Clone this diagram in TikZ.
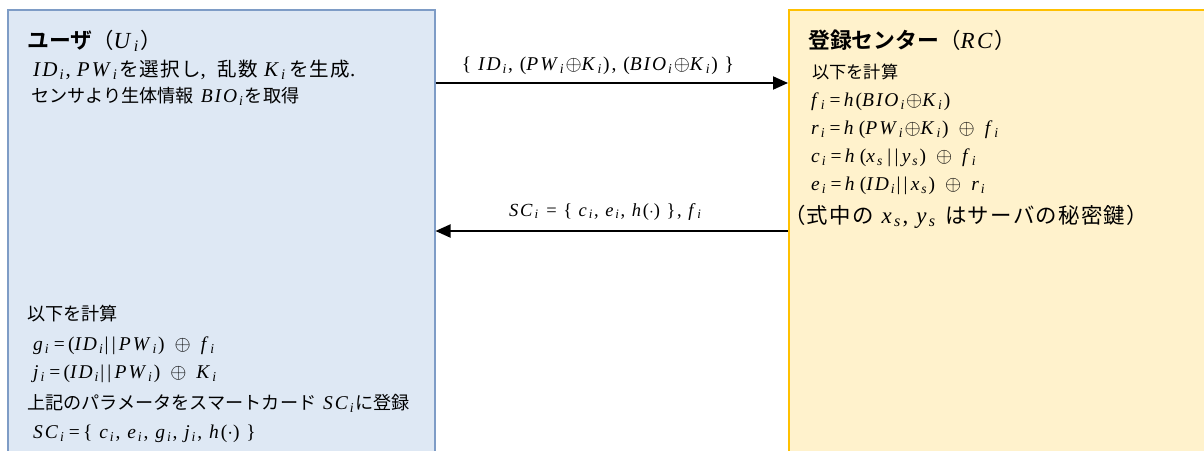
\documentclass[tikz,border=0pt]{standalone}
\usepackage{fontspec}
\setmainfont{Liberation Serif}[LetterSpace=10]
\newfontfamily\jp{Noto Sans CJK JP}[Scale=0.93]
\newfontfamily\jpw{Noto Sans CJK JP}[Scale=0.93,LetterSpace=6]
\newfontfamily\jpb{Noto Sans CJK JP Bold}[Scale=0.95]
\usetikzlibrary{arrows.meta}
\definecolor{ufill}{HTML}{DEE8F4}
\definecolor{uline}{HTML}{7E9CC6}
\definecolor{rfill}{HTML}{FFF2CC}
\definecolor{rline}{HTML}{FFC000}
\newcommand\vv[2]{\textit{#1}\textsubscript{\textit{#2}}}
\newcommand\xo{$\oplus$}
\newcommand\xxo{\hspace{10pt}$\oplus$\hspace{10pt}}
\tikzset{
  ubox/.style={draw=uline,fill=ufill,line width=1.5pt,rectangle,inner sep=0pt},
  rbox/.style={draw=rline,fill=rfill,line width=1.8pt,rectangle,inner sep=0pt},
  txt/.style={anchor=base west,inner sep=0pt,font=\fontsize{19.5}{23}\selectfont},
  ttl/.style={anchor=base west,inner sep=0pt,font=\fontsize{23}{27}\selectfont},
  lbl/.style={anchor=base,inner sep=0pt,font=\fontsize{19.5}{23}\selectfont},
  msg/.style={line width=2pt,-{Triangle[length=15pt,width=13pt]}}
}
\begin{document}
\begin{tikzpicture}[x=1pt,y=-1pt]
\useasboundingbox (0,0) rectangle (1204,450);
\clip (0,0) rectangle (1204,450);
\node[ubox,minimum width=427pt,minimum height=460pt,anchor=north west] (user) at (7,9) {};
\node[rbox,minimum width=430pt,minimum height=460pt,anchor=north west] (rc) at (788,9) {};
% user texts
\node[ttl] (ut) at (27,48) {{\jpb ユーザ}{\jp （}\vv{U}{i}{\jp ）}};
\node[txt,font=\fontsize{21}{25}\selectfont] (u1) at (33,76) {\vv{ID}{i},\hspace{6pt}\vv{PW}{i}{\jpw を選択し},\hspace{12pt}{\jpw 乱数}\hspace{6pt}\vv{K}{i}\hspace{2pt}{\jpw を生成}.};
\node[txt] (u2) at (31,102) {{\jp センサより生体情報} \vv{BIO}{i}{\jp を取得}};
\node[txt] (u3) at (27,320) {\jp 以下を計算};
\node[txt] (u4) at (33,350) {\vv{g}{i}\,=\,(\vv{ID}{i}|\,|\,\vv{PW}{i})\xxo\vv{f}{i}};
\node[txt] (u5) at (33,378) {\vv{j}{i}\,=\,(\vv{ID}{i}|\,|\,\vv{PW}{i})\xxo\vv{K}{i}};
\node[txt] (u6) at (27,409) {{\jp 上記のパラメータをスマートカード} \vv{SC}{i}{\jp に登録}};
\node[txt] (u7) at (33,438) {\vv{SC}{i}\,=\,\{ \vv{c}{i}, \vv{e}{i}, \vv{g}{i}, \vv{j}{i}, \textit{h}($\cdot$) \}};
% rc texts
\node[ttl] (rt) at (808,48) {{\jpb 登録センター}{\jp （}\textit{RC}{\jp ）}};
\node[txt,font=\fontsize{18.5}{22}\selectfont] (r1) at (812,78) {\jp 以下を計算};
\node[txt] (r2) at (811,106) {\vv{f}{i}\,=\,\textit{h}(\vv{BIO}{i}\xo\vv{K}{i})};
\node[txt] (r3) at (811,134) {\vv{r}{i}\,=\,\textit{h}\,(\vv{PW}{i}\xo\vv{K}{i})\xxo\vv{f}{i}};
\node[txt] (r4) at (811,162) {\vv{c}{i}\,=\,\textit{h}\,(\vv{x}{s}\,|\,|\,\vv{y}{s})\xxo\vv{f}{i}};
\node[txt] (r5) at (811,190) {\vv{e}{i}\,=\,\textit{h}\,(\vv{ID}{i}|\,|\,\vv{x}{s})\xxo\vv{r}{i}};
\node[txt,font=\fontsize{23}{27}\selectfont] (r6) at (784,223) {{\jpw （式中の} \vv{x}{s}, \vv{y}{s} {\jpw はサーバの秘密鍵）}};
% messages
\coordinate (a1s) at (user.east |- 0,83);
\coordinate (a1e) at (rc.west |- 0,83);
\draw[msg] (a1s) -- (a1e);
\node[lbl] (m1) at (598,70) {\{ \vv{ID}{i}, (\vv{PW}{i}\xo\vv{K}{i}), (\vv{BIO}{i}\xo\vv{K}{i}) \}};
\coordinate (a2s) at (rc.west |- 0,231);
\coordinate (a2e) at (user.east |- 0,231);
\draw[msg] (a2s) -- (a2e);
\node[lbl,font=\fontsize{18.5}{22}\selectfont] (m2) at (606,216) {\vv{SC}{i} = \{ \vv{c}{i}, \vv{e}{i}, \textit{h}($\cdot$) \}, \vv{f}{i}};
\end{tikzpicture}
\end{document}
